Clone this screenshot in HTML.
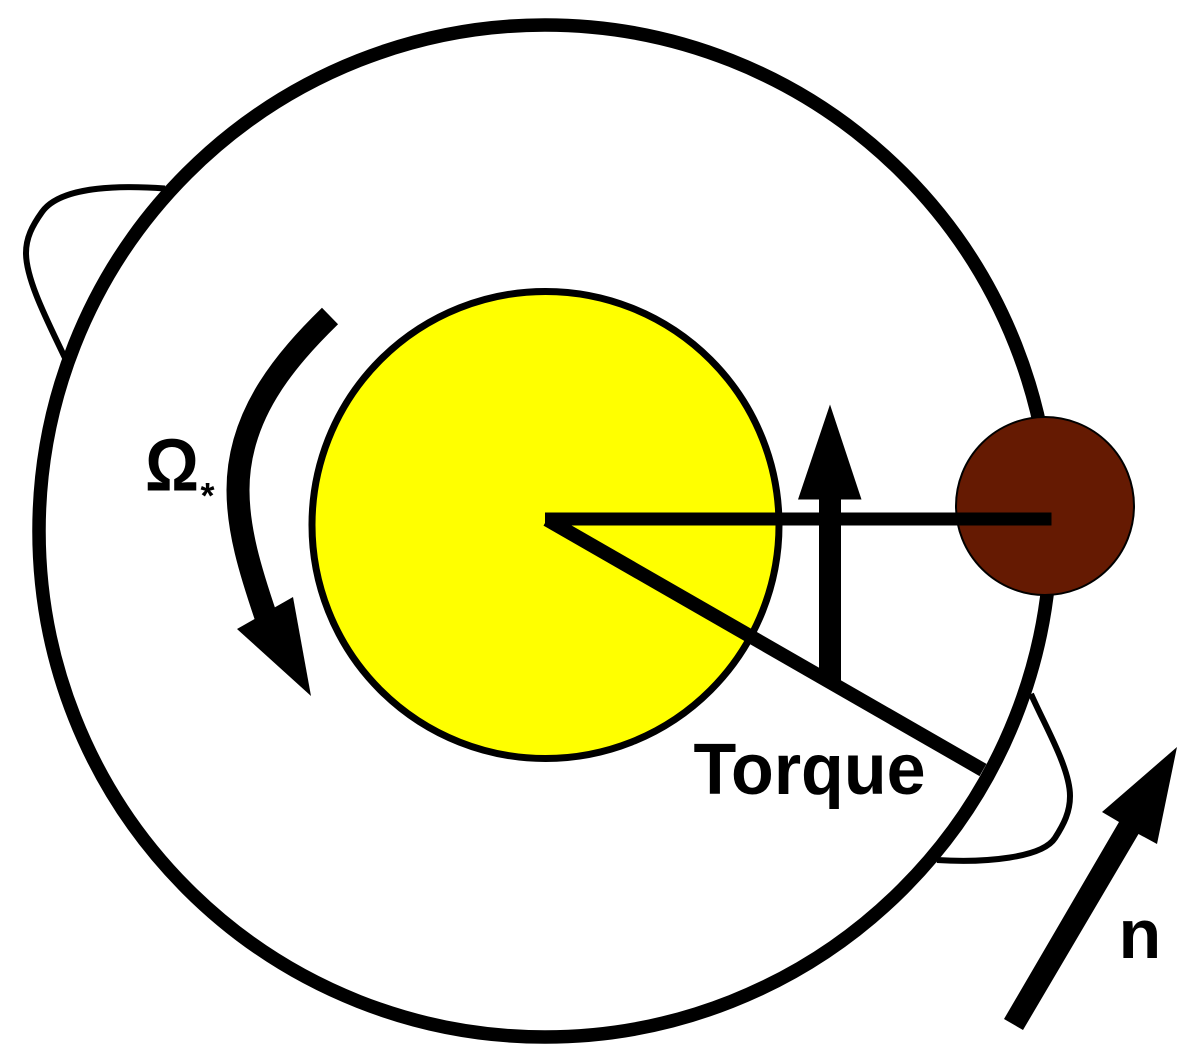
<!DOCTYPE html>
<html>
<head>
<meta charset="utf-8">
<style>
html,body{margin:0;padding:0;background:#fff;width:1200px;height:1057px;overflow:hidden}
svg{display:block}
text{font-family:"Liberation Sans",sans-serif;font-weight:bold;fill:#000}
</style>
</head>
<body>
<svg width="1200" height="1057" viewBox="0 0 1200 1057" xmlns="http://www.w3.org/2000/svg">
<circle cx="545" cy="531" r="506" fill="#fff" stroke="#000" stroke-width="13.5"/>
<path d="M165 188.5 C130 186 62 184 42 212 C32 226 26 238 26 253 C26 280 48 322 65 358" fill="none" stroke="#000" stroke-width="6"/>
<path d="M1031 694 C1045 726 1070 768 1070 796 C1070 812 1064 824 1055 838 C1042 858 985 863 937 860" fill="none" stroke="#000" stroke-width="6"/>
<circle cx="545.5" cy="525" r="233.5" fill="#ffff00" stroke="#000" stroke-width="7"/>
<circle cx="1045" cy="506" r="89" fill="#651a02" stroke="#000" stroke-width="2"/>
<line x1="545" y1="519" x2="1051.5" y2="519" stroke="#000" stroke-width="13"/>
<line x1="547" y1="519.5" x2="983" y2="770" stroke="#000" stroke-width="14"/>
<rect x="819" y="495" width="22" height="187" fill="#000"/>
<polygon points="830,404.5 798,499.5 861.5,499.5" fill="#000"/>
<path d="M330 316 C285 360 238 415 238 490 C238 530 250 570 266 617" fill="none" stroke="#000" stroke-width="23"/>
<polygon points="293,597 237,629 311,696" fill="#000"/>
<polygon points="1177,747 1157,844 1138.5,834 1023,1030 1004,1019 1119,822 1102,812" fill="#000"/>
<text x="693.5" y="794" font-size="72" textLength="232" lengthAdjust="spacingAndGlyphs">Torque</text>
<text x="1118.5" y="958" font-size="70">n</text>
<text x="145" y="490.5" font-size="74" textLength="54" lengthAdjust="spacingAndGlyphs">Ω</text>
<text x="200.5" y="508" font-size="36">*</text>
</svg>
</body>
</html>
